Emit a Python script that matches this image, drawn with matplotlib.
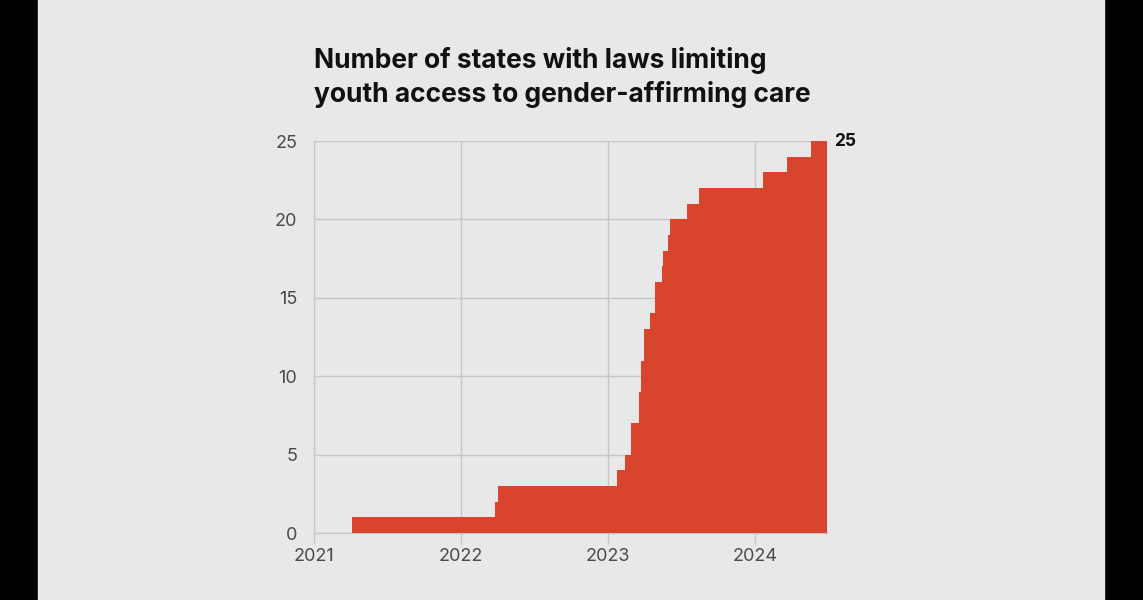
import numpy as np
import pandas as pd
import matplotlib
matplotlib.use('Agg')
import matplotlib.pyplot as plt
import matplotlib.dates as mdates

# dates on which the count of states changed, and the count after that date
step_dates = ['2021-04-05', '2022-03-27', '2022-04-04', '2023-01-24', '2023-02-12',
              '2023-02-27', '2023-03-19', '2023-03-24', '2023-04-01', '2023-04-16',
              '2023-04-27', '2023-05-14', '2023-05-18', '2023-05-30', '2023-06-04',
              '2023-07-15', '2023-08-14', '2024-01-20', '2024-03-20', '2024-05-18']
state_counts = [1, 2, 3, 4, 5, 7, 9, 11, 13, 14, 16, 17, 18, 19, 20, 21, 22, 23, 24, 25]
end_date = '2024-06-27'

year_ticks = ['2021', '2022', '2023', '2024']
y_ticks = [0, 5, 10, 15, 20, 25]

title = 'Number of states with laws limiting\nyouth access to gender-affirming care'

red = '#d8452c'
bg = '#e8e8e8'
grid_c = '#c6c6c6'

x = pd.to_datetime(step_dates + [end_date])
y = state_counts + [state_counts[-1]]

fig = plt.figure(figsize=(11.43, 6), dpi=100)
fig.patch.set_facecolor('black')
# grey panel
fig.add_artist(plt.Rectangle((38 / 1143, 0), (1104 - 38) / 1143, 1,
                             transform=fig.transFigure, color=bg, zorder=0))

ax = fig.add_axes([314 / 1143, 1 - 533 / 600, (826.7 - 314) / 1143, (533 - 141) / 600])
ax.set_facecolor(bg)
ax.fill_between(x, y, step='post', color=red, linewidth=0, zorder=3)

ax.set_xlim(pd.Timestamp('2021-01-01'), pd.Timestamp(end_date))
ax.set_ylim(0, 25)
ax.set_xticks(pd.to_datetime([t + '-01-01' for t in year_ticks]))
ax.xaxis.set_major_formatter(mdates.DateFormatter('%Y'))
ax.set_yticks(y_ticks)

ax.grid(True, color=grid_c, linewidth=1, zorder=1)
for s in ['top', 'right']:
    ax.spines[s].set_visible(False)
for s in ['left', 'bottom']:
    ax.spines[s].set_color(grid_c)
    ax.spines[s].set_linewidth(1)
    ax.spines[s].set_zorder(2)

ax.tick_params(axis='x', length=8, color=grid_c, width=1, pad=3,
               labelsize=13, labelcolor='#4a4a4a')
ax.tick_params(axis='y', length=0, pad=12, labelsize=13, labelcolor='#4a4a4a')
for lab in ax.get_xticklabels() + ax.get_yticklabels():
    lab.set_fontfamily('Inter')

ax.text(1.015, 25, str(state_counts[-1]), transform=ax.get_yaxis_transform(),
        ha='left', va='center', fontsize=12.5, fontweight='bold', color='#111111',
        family='Inter')

fig.text(314 / 1143, 1 - 47 / 600, title, ha='left', va='top', fontsize=19,
         fontweight='bold', color='#111111', family='Inter', linespacing=1.32)

fig.savefig('out.png', dpi=100, facecolor=fig.get_facecolor())
